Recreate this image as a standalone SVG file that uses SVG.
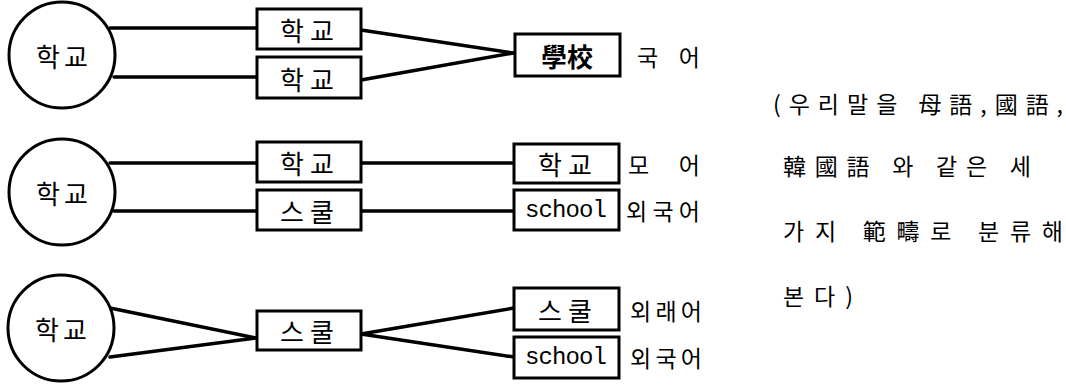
<svg xmlns="http://www.w3.org/2000/svg" width="1066" height="385" viewBox="0 0 1066 385">
<style>
.c{fill:#fff;stroke:#000;stroke-width:3}
.b{fill:#fff;stroke:#000;stroke-width:3}
.l{fill:none;stroke:#000;stroke-width:3.5;stroke-linecap:round}
.t{font-family:"Noto Sans CJK KR","Noto Sans",sans-serif;font-size:26px;fill:#000;text-anchor:middle;dominant-baseline:central}
.m{font-family:"Liberation Mono",monospace;font-size:24px;fill:#000;text-anchor:middle;dominant-baseline:central}
.n{font-family:"Noto Sans CJK KR","Noto Sans",sans-serif;font-size:23px;fill:#000;dominant-baseline:central}
</style>
<rect width="1066" height="385" fill="#fff"/>
<g id="connectors">
<line class="l" x1="110" y1="28" x2="257" y2="28"/>
<line class="l" x1="114" y1="77" x2="257" y2="77"/>
<line class="l" x1="361" y1="30" x2="513" y2="53"/>
<line class="l" x1="361" y1="80" x2="513" y2="53"/>
<line class="l" x1="110" y1="163" x2="257" y2="163"/>
<line class="l" x1="114" y1="211" x2="257" y2="211"/>
<line class="l" x1="361" y1="163" x2="514" y2="163"/>
<line class="l" x1="361" y1="211" x2="514" y2="211"/>
<line class="l" x1="110" y1="308" x2="256" y2="338"/>
<line class="l" x1="110" y1="357" x2="256" y2="338"/>
<line class="l" x1="361" y1="334" x2="514" y2="308"/>
<line class="l" x1="361" y1="334" x2="514" y2="357"/>
</g>
<g id="circle1"><circle class="c" cx="62" cy="55" r="53"/><text class="t" x="62" y="55" textLength="52">학교</text></g>
<g id="box1a"><rect class="b" x="257" y="9" width="104" height="40"/><text class="t" x="307" y="29" textLength="54">학교</text></g>
<g id="box1b"><rect class="b" x="257" y="57" width="104" height="41"/><text class="t" x="307" y="78" textLength="54">학교</text></g>
<g id="box1c"><rect class="b" x="515" y="34" width="105" height="42"/><text class="t" x="567" y="55" style="font-weight:600" textLength="52">學校</text></g>
<g id="label1"><text class="n" x="637" y="56" textLength="63">국 어</text></g>

<g id="circle2"><circle class="c" cx="62" cy="192" r="53"/><text class="t" x="62" y="192" textLength="52">학교</text></g>
<g id="box2a"><rect class="b" x="257" y="142" width="104" height="40"/><text class="t" x="307" y="162" textLength="54">학교</text></g>
<g id="box2b"><rect class="b" x="257" y="190" width="104" height="40"/><text class="t" x="307" y="210" textLength="54">스쿨</text></g>
<g id="box2c"><rect class="b" x="514" y="144" width="105" height="39"/><text class="t" x="565" y="163" textLength="54">학교</text></g>
<g id="box2d"><rect class="b" x="514" y="190" width="105" height="40"/><text class="m" x="566" y="210" textLength="82">school</text></g>
<g id="label2a"><text class="n" x="628" y="164" textLength="72">모 어</text></g>
<g id="label2b"><text class="n" x="626" y="210" textLength="74">외국어</text></g>

<g id="circle3"><circle class="c" cx="61" cy="328" r="53"/><text class="t" x="61" y="328" textLength="52">학교</text></g>
<g id="box3a"><rect class="b" x="257" y="311" width="104" height="39"/><text class="t" x="307" y="330" textLength="54">스쿨</text></g>
<g id="box3b"><rect class="b" x="514" y="288" width="105" height="42"/><text class="t" x="565" y="309" textLength="54">스쿨</text></g>
<g id="box3c"><rect class="b" x="514" y="337" width="105" height="41"/><text class="m" x="566" y="357" textLength="82">school</text></g>
<g id="label3a"><text class="n" x="630" y="310" textLength="72">외래어</text></g>
<g id="label3b"><text class="n" x="630" y="357" textLength="72">외국어</text></g>

<g id="note">
<text class="n" x="773" y="103" textLength="290">(우리말을 母語,國語,</text>
<text class="n" x="783" y="165" textLength="248">韓國語 와 같은 세</text>
<text class="n" x="783" y="230" textLength="280">가지 範疇로 분류해</text>
<text class="n" x="783" y="295" textLength="70">본다)</text>
</g>
</svg>
